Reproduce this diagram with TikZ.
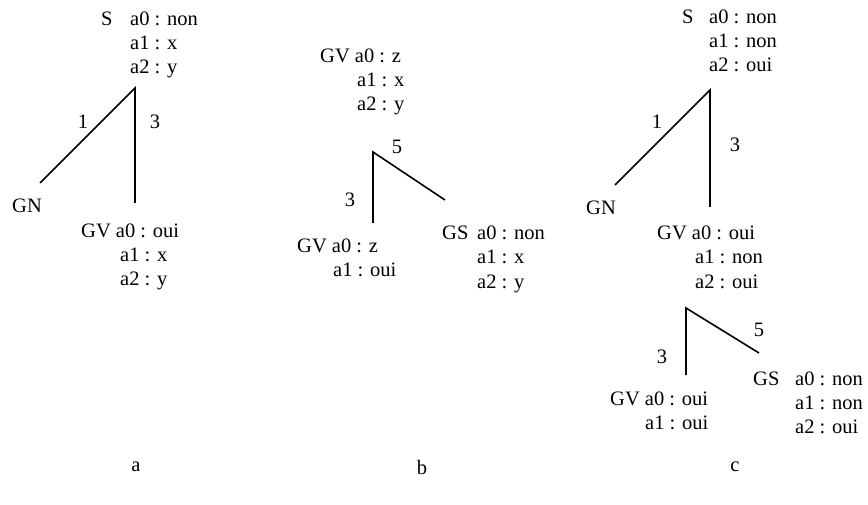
\documentclass[tikz,border=0pt]{standalone}
\usepackage{fontspec}
\setmainfont{Liberation Serif}
\begin{document}
\begin{tikzpicture}[x=1pt,y=-1pt,
  txt/.style={anchor=base west,inner sep=0pt,font=\fontsize{20.5}{24}\selectfont},
  num/.style={anchor=center,inner sep=0pt,font=\fontsize{20.5}{24}\selectfont},
  branch/.style={line width=1.6pt}]
\useasboundingbox (0,0) rectangle (868,505);
% ---------- a ----------
\node[txt] (aS) at (101,26) {S};
\node[txt] (aS0) at (130,26) {a0 : non};
\node[txt] (aS1) at (130,50) {a1 : x};
\node[txt] (aS2) at (130,74) {a2 : y};
\coordinate (aTop) at (135,88);
\coordinate (aL) at (40,183);
\coordinate (aB) at (135,203);
\draw[branch] (aL) -- (aTop) -- (aB);
\node[num] (a1) at (83,122) {1};
\node[num] (a3) at (155,122) {3};
\node[txt] (aGN) at (12,213) {GN};
\node[txt] (aGV) at (81,238) {GV a0 : oui};
\node[txt] (aGV1) at (120,262) {a1 : x};
\node[txt] (aGV2) at (120,286) {a2 : y};
\node[num] (la) at (136,467) {a};
% ---------- b ----------
\node[txt] (bGV) at (320,63) {GV a0 : z};
\node[txt] (bGV1) at (357,87) {a1 : x};
\node[txt] (bGV2) at (357,111) {a2 : y};
\coordinate (bTop) at (373,152);
\coordinate (bB) at (373,223);
\coordinate (bR) at (445,200);
\draw[branch] (bB) -- (bTop) -- (bR);
\node[num] (b5) at (397,147) {5};
\node[num] (b3) at (350,200) {3};
\node[txt] (bGVl) at (297,253) {GV a0 : z};
\node[txt] (bGVl1) at (333,277) {a1 : oui};
\node[txt] (bGS) at (442,240) {GS};
\node[txt] (bGS0) at (477,240) {a0 : non};
\node[txt] (bGS1) at (477,264) {a1 : x};
\node[txt] (bGS2) at (477,288) {a2 : y};
\node[num] (lb) at (422,467) {b};
% ---------- c ----------
\node[txt] (cS) at (682,24) {S};
\node[txt] (cS0) at (709,24) {a0 : non};
\node[txt] (cS1) at (709,48) {a1 : non};
\node[txt] (cS2) at (709,72) {a2 : oui};
\coordinate (cTop) at (710,90);
\coordinate (cL) at (615,185);
\coordinate (cB) at (710,207);
\draw[branch] (cL) -- (cTop) -- (cB);
\node[num] (c1) at (657,122) {1};
\node[num] (c3) at (735,145) {3};
\node[txt] (cGN) at (586,215) {GN};
\node[txt] (cGV) at (657,240) {GV a0 : oui};
\node[txt] (cGV1) at (695,264) {a1 : non};
\node[txt] (cGV2) at (695,288) {a2 : oui};
\coordinate (cTop2) at (686,308);
\coordinate (cB2) at (686,375);
\coordinate (cR2) at (759,353);
\draw[branch] (cB2) -- (cTop2) -- (cR2);
\node[num] (c5) at (759,330) {5};
\node[num] (c3b) at (662,357) {3};
\node[txt] (cGS) at (753,385) {GS};
\node[txt] (cGS0) at (795,385) {a0 : non};
\node[txt] (cGS1) at (795,409) {a1 : non};
\node[txt] (cGS2) at (795,433) {a2 : oui};
\node[txt] (cGVl) at (610,405) {GV a0 : oui};
\node[txt] (cGVl1) at (645,429) {a1 : oui};
\node[num] (lc) at (735,467) {c};
\end{tikzpicture}
\end{document}
